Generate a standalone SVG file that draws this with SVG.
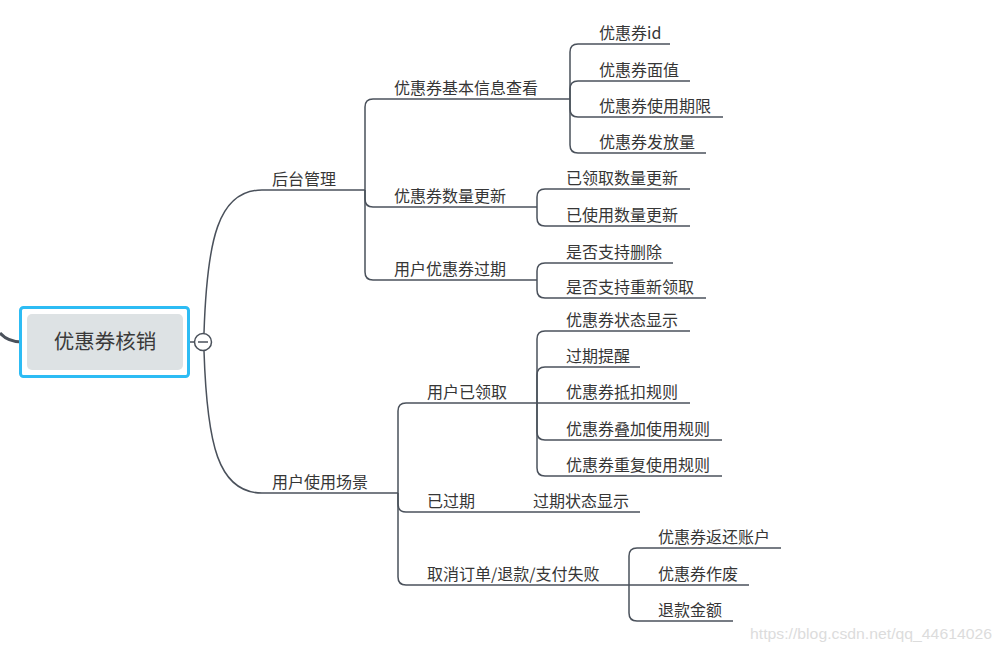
<svg xmlns="http://www.w3.org/2000/svg" width="1001" height="652" viewBox="0 0 1001 652">
<style>
.t{font-family:"Noto Sans CJK SC","Liberation Sans",sans-serif;font-size:16px;fill:#363636}
.u{stroke:#4a515b;stroke-width:1.5;fill:none}
.c{stroke:#4a515b;stroke-width:1.5;fill:none}
.wm{font-family:"Liberation Sans",Arial,sans-serif;font-size:15px;fill:#dcdcdc}
</style>
<rect width="1001" height="652" fill="#fff"/>
<g id="connectors">
<path class="c" d="M0,333 Q8,342 22,342" style="stroke-width:3"/>
<path class="c" d="M183,342 H194"/>
<path class="c" d="M204,333 C207,240 218,190 262,190"/>
<path class="c" d="M204,351 C207,444 218,493 262,493"/>
<path class="c" d="M365,190 V107 Q365,99 373,99"/>
<path class="c" d="M365,190 V199 Q365,207 373,207"/>
<path class="c" d="M365,190 V272 Q365,280 373,280"/>
<path class="c" d="M570,99 V52 Q570,44 578,44"/>
<path class="c" d="M570,99 V89 Q570,81 578,81"/>
<path class="c" d="M570,99 V109 Q570,117 578,117"/>
<path class="c" d="M570,99 V145 Q570,153 578,153"/>
<path class="c" d="M537,207 V197 Q537,189 545,189"/>
<path class="c" d="M537,207 V218 Q537,226 545,226"/>
<path class="c" d="M537,280 V271 Q537,263 545,263"/>
<path class="c" d="M537,280 V290 Q537,298 545,298"/>
<path class="c" d="M398,493 V411 Q398,403 406,403"/>
<path class="c" d="M398,493 V504 Q398,512 406,512"/>
<path class="c" d="M398,493 V577 Q398,585 406,585"/>
<path class="c" d="M537,403 V339 Q537,331 545,331"/>
<path class="c" d="M537,403 V375 Q537,367 545,367"/>
<path class="c" d="M537,403 H545"/>
<path class="c" d="M537,403 V432 Q537,440 545,440"/>
<path class="c" d="M537,403 V468 Q537,476 545,476"/>
<path class="c" d="M629,585 V556 Q629,548 637,548"/>
<path class="c" d="M629,585 H637"/>
<path class="c" d="M629,585 V613 Q629,621 637,621"/>
</g>
<g id="root">
<rect x="20.5" y="307.5" width="168" height="69" rx="3" fill="#fff" stroke="#2dbcf4" stroke-width="3"/>
<rect x="27" y="314" width="156" height="56" rx="5" fill="#dde2e4"/>
<text x="105" y="349" text-anchor="middle" style="font-family:'Noto Sans CJK SC','Liberation Sans',sans-serif;font-size:20.5px;fill:#3a3a3a">优惠券核销</text>
</g>
<g id="collapse">
<circle cx="203" cy="342" r="8.5" fill="#fff" stroke="#4a515b" stroke-width="1.5"/>
<line x1="198" y1="342" x2="208" y2="342" stroke="#4a515b" stroke-width="1.5"/>
</g>
<g id="n-houtai"><line class="u" x1="262" y1="190" x2="365" y2="190"/><text class="t" x="272" y="185">后台管理</text></g>
<g id="n-jiben"><line class="u" x1="373" y1="99" x2="570" y2="99"/><text class="t" x="394" y="94">优惠券基本信息查看</text></g>
<g id="n-shuliang"><line class="u" x1="373" y1="207" x2="537" y2="207"/><text class="t" x="394" y="202">优惠券数量更新</text></g>
<g id="n-guoqi"><line class="u" x1="373" y1="280" x2="537" y2="280"/><text class="t" x="394" y="275">用户优惠券过期</text></g>
<g id="n-id"><line class="u" x1="578" y1="44" x2="670" y2="44"/><text class="t" x="599" y="39">优惠券id</text></g>
<g id="n-mianzhi"><line class="u" x1="578" y1="81" x2="690" y2="81"/><text class="t" x="599" y="76">优惠券面值</text></g>
<g id="n-qixian"><line class="u" x1="578" y1="117" x2="723" y2="117"/><text class="t" x="599" y="112">优惠券使用期限</text></g>
<g id="n-fafang"><line class="u" x1="578" y1="153" x2="706" y2="153"/><text class="t" x="599" y="148">优惠券发放量</text></g>
<g id="n-lingqu"><line class="u" x1="545" y1="189" x2="690" y2="189"/><text class="t" x="566" y="184">已领取数量更新</text></g>
<g id="n-shiyong"><line class="u" x1="545" y1="226" x2="690" y2="226"/><text class="t" x="566" y="221">已使用数量更新</text></g>
<g id="n-shanchu"><line class="u" x1="545" y1="263" x2="673" y2="263"/><text class="t" x="566" y="258">是否支持删除</text></g>
<g id="n-chongxin"><line class="u" x1="545" y1="298" x2="706" y2="298"/><text class="t" x="566" y="293">是否支持重新领取</text></g>
<g id="n-changjing"><line class="u" x1="262" y1="493" x2="398" y2="493"/><text class="t" x="272" y="488">用户使用场景</text></g>
<g id="n-yilingqu"><line class="u" x1="406" y1="403" x2="537" y2="403"/><text class="t" x="427" y="398">用户已领取</text></g>
<g id="n-yiguoqi"><line class="u" x1="406" y1="512" x2="505" y2="512"/><text class="t" x="427" y="507">已过期</text></g>
<g id="n-guoqizhuangtai"><line class="u" x1="505" y1="512" x2="640" y2="512"/><text class="t" x="533" y="507">过期状态显示</text></g>
<g id="n-quxiao"><line class="u" x1="406" y1="585" x2="629" y2="585"/><text class="t" x="427" y="580">取消订单/退款/支付失败</text></g>
<g id="n-zhuangtai"><line class="u" x1="545" y1="331" x2="690" y2="331"/><text class="t" x="566" y="326">优惠券状态显示</text></g>
<g id="n-tixing"><line class="u" x1="545" y1="367" x2="640" y2="367"/><text class="t" x="566" y="362">过期提醒</text></g>
<g id="n-dikou"><line class="u" x1="545" y1="403" x2="690" y2="403"/><text class="t" x="566" y="398">优惠券抵扣规则</text></g>
<g id="n-diejia"><line class="u" x1="545" y1="440" x2="722" y2="440"/><text class="t" x="566" y="435">优惠券叠加使用规则</text></g>
<g id="n-chongfu"><line class="u" x1="545" y1="476" x2="722" y2="476"/><text class="t" x="566" y="471">优惠券重复使用规则</text></g>
<g id="n-fanhuan"><line class="u" x1="637" y1="548" x2="781" y2="548"/><text class="t" x="658" y="543">优惠券返还账户</text></g>
<g id="n-zuofei"><line class="u" x1="637" y1="585" x2="749" y2="585"/><text class="t" x="658" y="580">优惠券作废</text></g>
<g id="n-jine"><line class="u" x1="637" y1="621" x2="733" y2="621"/><text class="t" x="658" y="616">退款金额</text></g>
<text class="wm" x="750" y="639" textLength="242" lengthAdjust="spacingAndGlyphs">https://blog.csdn.net/qq_44614026</text>
</svg>
